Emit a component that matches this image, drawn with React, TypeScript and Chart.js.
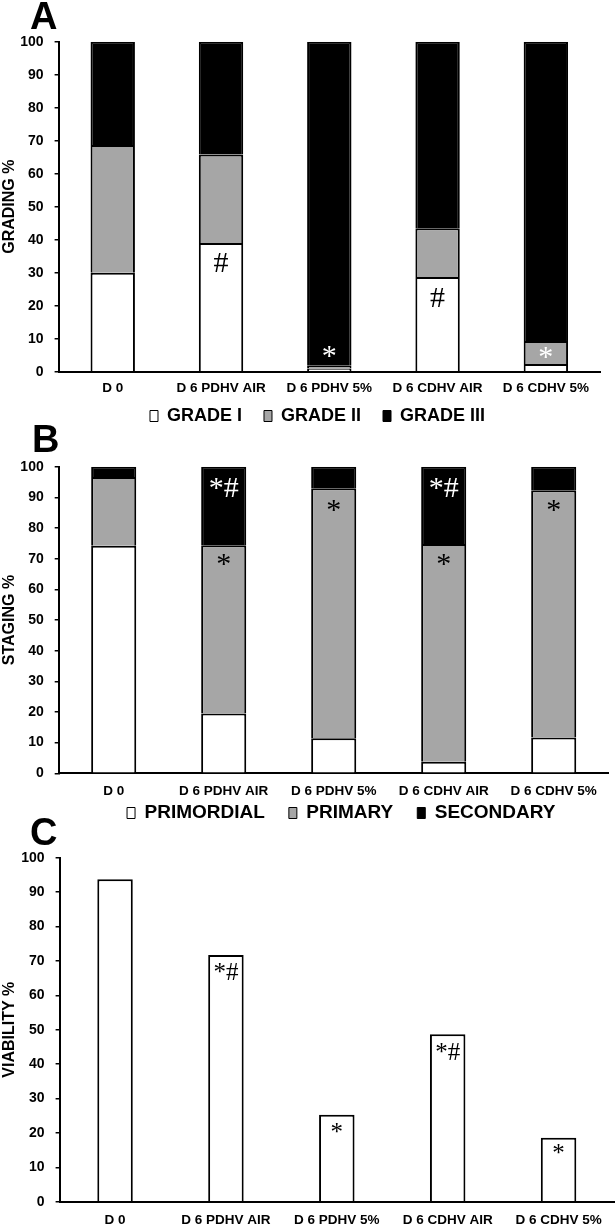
import React, { useEffect, useRef } from "react";
import { Chart, registerables } from "chart.js";
Chart.register(...registerables);

const categories = ["D 0", "D 6 PDHV AIR", "D 6 PDHV 5%", "D 6 CDHV AIR", "D 6 CDHV 5%"];

const gradeI = [30.0, 39.0, 1.0, 28.7, 2.3];
const gradeII = [38.7, 26.8, 0.8, 14.8, 7.0];
const gradeIII = [31.3, 34.2, 98.2, 56.5, 90.7];

const primordial = [74.2, 19.5, 11.4, 3.8, 11.7];
const primary = [22.4, 54.9, 81.6, 71.0, 80.6];
const secondary = [3.4, 25.6, 7.0, 25.2, 7.7];

const viability = [93.7, 71.7, 25.3, 48.7, 18.6];

const gradingMarks = [
  { i: 1, v: 33.2, text: "#", color: "#000" },
  { i: 3, v: 22.6, text: "#", color: "#000" },
  { i: 2, v: 6.4, text: "*", color: "#fff" },
  { i: 4, v: 6.3, text: "*", color: "#fff" },
];
const stagingMarks = [
  { i: 1, v: 93.5, text: "*#", color: "#fff" },
  { i: 1, v: 70.2, text: "*", color: "#000" },
  { i: 2, v: 87.8, text: "*", color: "#000" },
  { i: 3, v: 93.5, text: "*#", color: "#fff" },
  { i: 3, v: 70.2, text: "*", color: "#000" },
  { i: 4, v: 87.8, text: "*", color: "#000" },
];
const viabilityMarks = [
  { i: 1, v: 66.9, text: "*#", color: "#000" },
  { i: 2, v: 21.6, text: "*", color: "#000" },
  { i: 3, v: 43.6, text: "*#", color: "#000" },
  { i: 4, v: 15.3, text: "*", color: "#000" },
];

const GRAY = "#a6a6a6";
const SANS = '"Liberation Sans", Arial, sans-serif';
const SERIF = '"Liberation Serif", "Times New Roman", serif';

type Mark = { i: number; v: number; text: string; color: string };

function marksPlugin(marks: Mark[], size: number, letter: string, lx: number, ly: number, legendShift: number) {
  return {
    id: "marks",
    afterLayout(chart: any) {
      const l = chart.legend;
      if (l && legendShift) {
        l.top -= legendShift;
        l.bottom -= legendShift;
      }
    },
    afterDatasetsDraw(chart: any) {
      const { ctx } = chart;
      const x = chart.scales.x;
      const y = chart.scales.y;
      ctx.save();
      ctx.textAlign = "center";
      ctx.textBaseline = "alphabetic";
      ctx.font = `${size}px ${SERIF}`;
      for (const m of marks) {
        const px = x.getPixelForValue(m.i);
        const py = y.getPixelForValue(m.v);
        const off = m.text.includes("#") ? 0.34 : 0.49;
        ctx.fillStyle = m.color;
        ctx.fillText(m.text, px, py + off * size);
      }
      ctx.font = `bold 38px ${SANS}`;
      ctx.fillStyle = "#000";
      ctx.textAlign = "left";
      ctx.fillText(letter, lx, ly);
      ctx.restore();
    },
  };
}

type PanelParams = {
  datasets: any[];
  yTitle: string;
  top: number;
  padBottom: number;
  padRight: number;
  rightW: number;
  yW: number;
  xH: number;
  xPad: number;
  legend: null | { size: number; padding: number; shift: number };
  marks: Mark[];
  markSize: number;
  letter: string;
  lx: number;
  ly: number;
};

function makeConfig(p: PanelParams): any {
  const scales: any = {
    x: {
      stacked: true,
      grid: { display: false, drawTicks: false },
      border: { display: true, color: "#000", width: 2 },
      ticks: {
        color: "#000",
        font: { family: SANS, size: 13.5, weight: "bold" },
        padding: p.xPad,
        autoSkip: false,
        maxRotation: 0,
        minRotation: 0,
      },
      afterFit: (s: any) => {
        s.height = p.xH;
      },
    },
    y: {
      stacked: true,
      min: 0,
      max: 100,
      ticks: {
        stepSize: 10,
        color: "#000",
        font: { family: SANS, size: 14, weight: "bold" },
        padding: 11,
      },
      grid: {
        display: true,
        drawOnChartArea: false,
        drawTicks: true,
        tickLength: 4,
        color: "#000",
        lineWidth: 1.5,
      },
      border: { display: true, color: "#000", width: 2 },
      title: {
        display: true,
        text: p.yTitle,
        color: "#000",
        font: { family: SANS, size: 16, weight: "bold" },
        padding: { top: 0, bottom: 0 },
      },
      afterFit: (s: any) => {
        s.width = p.yW;
      },
    },
  };
  if (p.rightW > 0) {
    scales.yR = {
      type: "linear",
      axis: "y",
      position: "right",
      display: true,
      grid: { display: false },
      border: { display: false },
      ticks: { display: false },
      afterFit: (s: any) => {
        s.width = p.rightW;
      },
    };
  }
  return {
    type: "bar",
    data: { labels: categories, datasets: p.datasets },
    options: {
      responsive: false,
      animation: false,
      layout: { padding: { left: 0, right: p.padRight, top: p.top, bottom: p.padBottom } },
      plugins: {
        tooltip: { enabled: false },
        legend: p.legend
          ? {
              display: true,
              position: "bottom",
              fullSize: true,
              labels: {
                color: "#000",
                font: { family: SANS, size: p.legend.size, weight: "bold" },
                boxWidth: 8,
                boxHeight: 11,
                padding: p.legend.padding,
                generateLabels: (chart: any) =>
                  Chart.defaults.plugins.legend.labels
                    .generateLabels(chart)
                    .map((l: any) => ({ ...l, lineWidth: 1, strokeStyle: "#000" })),
              },
            }
          : { display: false },
      },
      scales,
    },
    plugins: [marksPlugin(p.marks, p.markSize, p.letter, p.lx, p.ly, p.legend ? p.legend.shift : 0)],
  };
}

function ds(label: string, data: number[], bg: string, bar: number) {
  return {
    label,
    data,
    backgroundColor: bg,
    borderColor: "#000",
    borderWidth: 2,
    barPercentage: bar,
    categoryPercentage: 1,
  };
}

function Panel({ params, top, height }: { params: PanelParams; top: number; height: number }) {
  const ref = useRef<HTMLCanvasElement | null>(null);
  useEffect(() => {
    const chart = new Chart(ref.current as HTMLCanvasElement, makeConfig(params));
    return () => chart.destroy();
  }, []);
  return (
    <canvas
      ref={ref}
      width={615}
      height={height}
      style={{ position: "absolute", left: 0, top, width: 615, height }}
    />
  );
}

const panelA: PanelParams = {
  datasets: [
    ds("GRADE I", gradeI, "#ffffff", 0.41),
    ds("GRADE II", gradeII, GRAY, 0.41),
    ds("GRADE III", gradeIII, "#000000", 0.41),
  ],
  yTitle: "GRADING %",
  top: 41.7,
  padBottom: 0.3,
  padRight: -20,
  rightW: 35,
  yW: 58.6,
  xH: 26,
  xPad: 8.2,
  legend: { size: 18, padding: 22, shift: 12.7 },
  marks: gradingMarks,
  markSize: 30,
  letter: "A",
  lx: 30,
  ly: 29,
};

const panelB: PanelParams = {
  datasets: [
    ds("PRIMORDIAL", primordial, "#ffffff", 0.41),
    ds("PRIMARY", primary, GRAY, 0.41),
    ds("SECONDARY", secondary, "#000000", 0.41),
  ],
  yTitle: "STAGING %",
  top: 46.7,
  padBottom: 0.7,
  padRight: -67.5,
  rightW: 73.8,
  yW: 58.7,
  xH: 28,
  xPad: 10.3,
  legend: { size: 19, padding: 24, shift: 21.8 },
  marks: stagingMarks,
  markSize: 30,
  letter: "B",
  lx: 32,
  ly: 32,
};

const panelC: PanelParams = {
  datasets: [ds("VIABILITY", viability, "#ffffff", 0.32)],
  yTitle: "VIABILITY %",
  top: 42.7,
  padBottom: 0,
  padRight: 1,
  rightW: 0,
  yW: 59.6,
  xH: 24.3,
  xPad: 10.2,
  legend: null,
  marks: viabilityMarks,
  markSize: 25,
  letter: "C",
  lx: 30,
  ly: 30,
};

export default function App() {
  return (
    <div
      style={{
        position: "absolute",
        left: 0,
        top: 0,
        width: 615,
        height: 1226,
        overflow: "hidden",
        background: "#fff",
      }}
    >
      <Panel params={panelA} top={0} height={448} />
      <Panel params={panelB} top={420} height={435} />
      <Panel params={panelC} top={815} height={411} />
    </div>
  );
}
